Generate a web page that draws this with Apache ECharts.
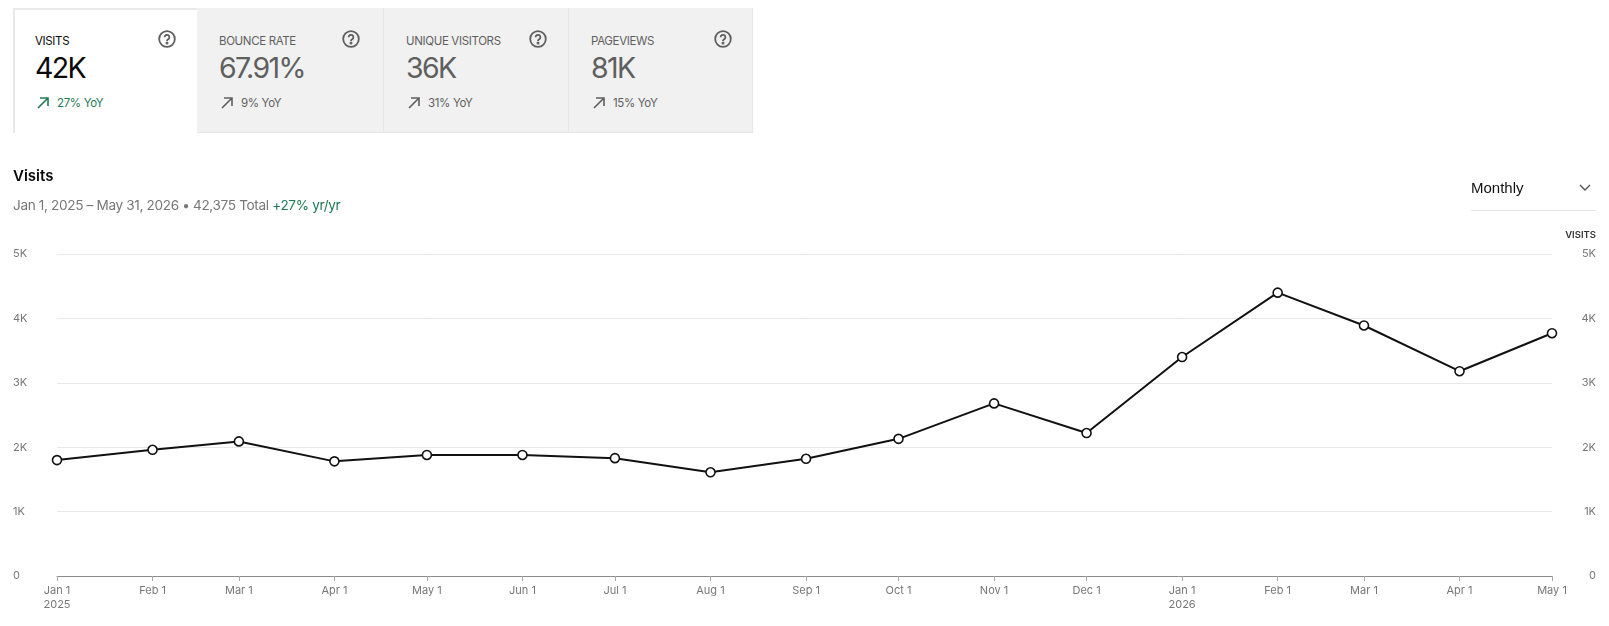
<!DOCTYPE html>
<html><head><meta charset="utf-8">
<script src="https://cdn.jsdelivr.net/npm/echarts@6/dist/echarts.min.js"></script>
<style>
html,body{margin:0;padding:0;width:1609px;height:626px;overflow:hidden;background:#fff;font-family:Inter,"Noto Sans",sans-serif}
#chart{position:absolute;left:0;top:0;width:1609px;height:626px}
.card{position:absolute;top:8px;height:125px;box-sizing:border-box;background:#f1f1f1;color:#5f5f5f;border-right:1px solid #e6e6e6;border-bottom:1px solid #e6e6e6}
.card.active{background:#fff;color:#0a0a0a;border:2px solid #e9e9e9;border-bottom:none;border-right:none}
.t{position:absolute;left:22px;top:26px;font-size:11.5px;line-height:14px;letter-spacing:-.35px;white-space:nowrap}
.v{position:absolute;left:22px;top:43px;font-size:28.5px;line-height:34px;letter-spacing:-1.6px;white-space:nowrap}
.y{position:absolute;left:44px;top:88px;font-size:11.5px;line-height:14px;letter-spacing:-.35px;white-space:nowrap}
.active .y{color:#1f7a55}
.a,.q{position:absolute}
.a{left:23px;top:88px}.q{left:145px;top:22px}
.active .t,.active .v{margin-left:-2px}.active .y,.active .a,.active .q{margin-left:-2px}
.active .t,.active .v,.active .y,.active .a,.active .q{margin-top:-2px}
.abs{position:absolute;white-space:nowrap}
</style></head><body>
<div id="chart"></div>
<div id="head"></div>
<script>
const kpiTitles=['VISITS','BOUNCE RATE','UNIQUE VISITORS','PAGEVIEWS'];
const kpiValues=['42K','67.91%','36K','81K'];
const kpiChanges=['27% YoY','9% YoY','31% YoY','15% YoY'];
const months=['2025-01-01','2025-02-01','2025-03-01','2025-04-01','2025-05-01','2025-06-01','2025-07-01','2025-08-01','2025-09-01','2025-10-01','2025-11-01','2025-12-01','2026-01-01','2026-02-01','2026-03-01','2026-04-01','2026-05-01'];
const visits=[1800,1960,2090,1780,1880,1880,1830,1610,1820,2130,2680,2220,3400,4400,3890,3180,3770];
const tickLabels=['Jan 1\n2025','Feb 1','Mar 1','Apr 1','May 1','Jun 1','Jul 1','Aug 1','Sep 1','Oct 1','Nov 1','Dec 1','Jan 1\n2026','Feb 1','Mar 1','Apr 1','May 1'];

const head=document.getElementById('head');
const lefts=[13,197,384,569];
const widths=[184,187,185,184];
kpiTitles.forEach((t,i)=>{
  const c=document.createElement('div');
  c.className='card'+(i===0?' active':'');
  c.style.left=lefts[i]+'px';c.style.width=widths[i]+'px';
  const col=i===0?'#1f7a55':'#5f5f5f';
  c.innerHTML=`<div class="t">${t}</div><div class="v">${kpiValues[i]}</div>
  <svg class="a" width="14" height="14" viewBox="0 0 14 14" fill="none" stroke="${col}" stroke-width="1.6"><path d="M2 12 L12 2 M4 2 H12 V10"/></svg>
  <div class="y">${kpiChanges[i]}</div>
  <svg class="q" width="18" height="18" viewBox="0 0 18 18" fill="none" stroke="#5f5f5f" stroke-width="1.8"><circle cx="9" cy="9" r="7.8"/><path d="M6.6 7.2a2.4 2.4 0 1 1 3.6 2.1c-.8.5-1.2.9-1.2 1.7"/><circle cx="9" cy="13" r=".6" fill="#5f5f5f"/></svg>`;
  head.appendChild(c);
});
head.insertAdjacentHTML('beforeend',`
<div class="abs" style="left:13px;top:167px;font-size:15px;line-height:18px;font-weight:600;color:#0a0a0a">Visits</div>
<div class="abs" style="left:13px;top:196px;font-size:13.6px;line-height:18px;letter-spacing:-.35px;color:#777">Jan 1, 2025 – May 31, 2026 • 42,375 Total <span style="color:#1f7a55">+27% yr/yr</span></div>
<div class="abs" style="left:1471px;top:179px;font-size:15px;line-height:18px;color:#111;font-family:'Liberation Sans',sans-serif">Monthly</div>
<svg class="abs" style="left:1579px;top:184px" width="12" height="8" viewBox="0 0 12 8" fill="none" stroke="#555" stroke-width="1.4"><path d="M1 1 L6 6 L11 1"/></svg>
<div class="abs" style="left:1471px;top:210px;width:125px;height:1px;background:#e6e6e6"></div>`);

const chart=echarts.init(document.getElementById('chart'),null,{renderer:'canvas'});
const ts=months.map(m=>Date.parse(m+'T00:00:00Z'));
const labelMap=new Map(ts.map((t,i)=>[t,tickLabels[i]]));
const yLabel=v=>v===0?'0':(v/1000)+'K';
const font='Inter, "Noto Sans", sans-serif';
chart.setOption({
  animation:false,
  grid:{left:57,right:57,top:254,bottom:50},
  xAxis:{type:'value',min:ts[0],max:ts[ts.length-1],scale:true,
    axisLine:{show:true,lineStyle:{color:'#8c8c8c',width:1}},
    axisTick:{show:true,length:5,lineStyle:{color:'#a8a8a8'},customValues:ts},
    splitLine:{show:false},
    axisLabel:{customValues:ts,hideOverlap:false,margin:8,color:'#777',fontSize:11,lineHeight:14,fontFamily:font,
      formatter:v=>labelMap.get(+v)||''}},
  yAxis:[
    {type:'value',min:0,max:5000,interval:1000,position:'left',
     axisLine:{show:false},axisTick:{show:false},
     splitLine:{lineStyle:{color:'#e8e8e8',width:1}},
     axisLabel:{align:'left',margin:44,color:'#777',fontSize:11,fontFamily:font,padding:[0,0,2,0],formatter:yLabel}},
    {type:'value',min:0,max:5000,interval:1000,position:'right',
     axisLine:{show:false},axisTick:{show:false},splitLine:{show:false},
     name:'VISITS',nameLocation:'end',nameGap:14,
     nameTextStyle:{align:'right',padding:[0,-44,0,0],color:'#333',fontSize:9.5,fontWeight:600,fontFamily:font},
     axisLabel:{align:'right',margin:44,color:'#777',fontSize:11,fontFamily:font,padding:[0,0,2,0],formatter:yLabel}}
  ],
  series:[{type:'line',data:ts.map((t,i)=>[t,visits[i]]),symbol:'circle',symbolSize:9,showSymbol:true,clip:false,
    lineStyle:{color:'#111',width:2},
    itemStyle:{color:'#fff',borderColor:'#111',borderWidth:1.6}}]
});
</script>
</body></html>
